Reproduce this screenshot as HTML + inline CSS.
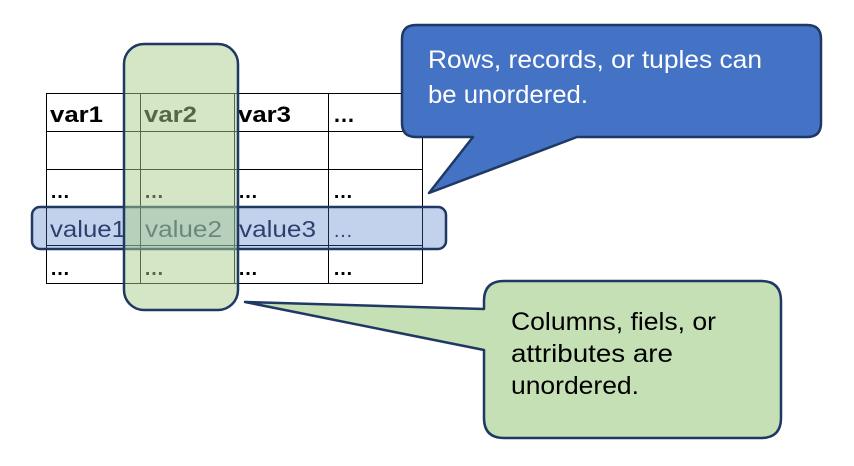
<!DOCTYPE html>
<html><head><meta charset="utf-8"><style>
html,body{margin:0;padding:0;background:#fff;}
svg{display:block;}
text{font-family:"Liberation Sans",sans-serif;}
</style></head><body>
<svg width="854" height="466" viewBox="0 0 854 466" xmlns="http://www.w3.org/2000/svg">
<g stroke="#000" stroke-width="1" fill="none">
<rect x="46.5" y="93.5" width="376" height="190"/>
<line x1="140.5" y1="93" x2="140.5" y2="284"/>
<line x1="234.5" y1="93" x2="234.5" y2="284"/>
<line x1="328.5" y1="93" x2="328.5" y2="284"/>
<line x1="46" y1="131.5" x2="423" y2="131.5"/>
<line x1="46" y1="169.5" x2="423" y2="169.5"/>
<line x1="46" y1="207.5" x2="423" y2="207.5"/>
<line x1="46" y1="245.5" x2="423" y2="245.5"/>
</g>
<g font-size="22" font-weight="bold" fill="#000">
<text x="50" y="122" textLength="53" lengthAdjust="spacingAndGlyphs">var1</text><text x="144" y="122" textLength="53" lengthAdjust="spacingAndGlyphs">var2</text><text x="238" y="122" textLength="53" lengthAdjust="spacingAndGlyphs">var3</text><text x="333" y="122">…</text>
</g>
<g font-size="20" font-weight="bold" fill="#000">
<text x="50" y="198">…</text><text x="144" y="198">…</text><text x="238" y="198">…</text><text x="333" y="198">…</text>
<text x="50" y="275">…</text><text x="144" y="275">…</text><text x="238" y="275">…</text><text x="333" y="275">…</text>
</g>
<g font-size="23" fill="#1f2a44">
<text x="50" y="237" textLength="76" lengthAdjust="spacingAndGlyphs">value1</text>
<text x="145" y="237" textLength="77" lengthAdjust="spacingAndGlyphs">value2</text>
<text x="239" y="237" textLength="77" lengthAdjust="spacingAndGlyphs">value3</text>
<text x="333" y="237" font-size="20">…</text>
</g>
<rect x="32" y="207" width="414" height="42" rx="8" fill="#4472c4" fill-opacity="0.32" stroke="#1f3864" stroke-width="2.5"/>
<rect x="124" y="44" width="114" height="266" rx="20" fill="#a9cd8c" fill-opacity="0.5" stroke="#1f3864" stroke-width="2.5"/>
<path d="M416,25 H807 Q821,25 821,39 V123 Q821,137 807,137 H577 L429,193 L473,137 H416 Q402,137 402,123 V39 Q402,25 416,25 Z" fill="#4472c4" stroke="#1f3864" stroke-width="2.5" stroke-linejoin="round"/>
<text x="428" y="68" font-size="25" fill="#fff" textLength="334" lengthAdjust="spacingAndGlyphs">Rows, records, or tuples can</text>
<text x="428" y="103" font-size="25" fill="#fff" textLength="160" lengthAdjust="spacingAndGlyphs">be unordered.</text>
<path d="M504,281 H761 Q781,281 781,301 V418 Q781,438 761,438 H504 Q484,438 484,418 V350 L245,302 L484,309 V301 Q484,281 504,281 Z" fill="#c5e0b4" stroke="#1f3864" stroke-width="2.5" stroke-linejoin="round"/>
<text x="511" y="330" font-size="25" fill="#000" textLength="205" lengthAdjust="spacingAndGlyphs">Columns, fiels, or</text>
<text x="511" y="362" font-size="25" fill="#000" textLength="162" lengthAdjust="spacingAndGlyphs">attributes are</text>
<text x="511" y="394" font-size="25" fill="#000" textLength="128" lengthAdjust="spacingAndGlyphs">unordered.</text>
</svg>
</body></html>
